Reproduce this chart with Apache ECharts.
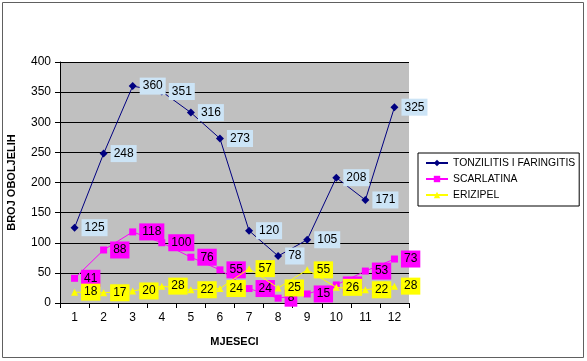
<!DOCTYPE html>
<html><head><meta charset="utf-8">
<script src="https://cdn.jsdelivr.net/npm/echarts@6/dist/echarts.min.js"></script>
<style>html,body{margin:0;padding:0;background:#fff}#c{width:587px;height:361px}</style>
</head><body><div id="c"></div>
<script>
const months = ['1','2','3','4','5','6','7','8','9','10','11','12'];
const tonzilitis = [125,248,360,351,316,273,120,78,105,208,171,325];
const scarlatina = [41,88,118,100,76,55,24,8,15,30,53,73];
const erizipel = [18,17,20,28,22,24,57,25,55,26,22,28];
const seriesNames = ['TONZILITIS I FARINGITIS','SCARLATINA','ERIZIPEL'];

const font = 'Liberation Sans, Arial, sans-serif';
function lbl(bg){
  return {show:true, position:'right', distance:3, color:'#000', fontFamily:font, fontSize:12,
    backgroundColor:bg, padding:[3,3,2,3]};
}
const chart = echarts.init(document.getElementById('c'));
chart.setOption({
  animation:false,
  backgroundColor:'#fff',
  graphic:[{type:'rect', shape:{x:2.5,y:2.5,width:581,height:355}, style:{fill:'none', stroke:'#606060', lineWidth:1}, silent:true, z:-1}],
  grid:{left:60, top:62, width:349, height:241, show:true, backgroundColor:'#C0C0C0', borderWidth:0,
    containLabel:false, outerBoundsMode:'none'},
  legend:{
    orient:'vertical', left:418, top:153, itemGap:6, itemWidth:22, itemHeight:8,
    borderColor:'#000', borderWidth:1, padding:[5,4,6,7],
    textStyle:{fontFamily:font, fontSize:10.4, color:'#000'},
    data:seriesNames.map(n=>({name:n}))
  },
  xAxis:{type:'category', data:months, boundaryGap:true,
    name:'MJESECI', nameLocation:'middle', nameGap:33,
    nameTextStyle:{fontFamily:font, fontSize:11, fontWeight:'bold', color:'#000'},
    axisLine:{lineStyle:{color:'#000'}}, axisTick:{show:true, inside:false, length:5, lineStyle:{color:'#000'}, alignWithLabel:false},
    axisLabel:{fontFamily:font, fontSize:12, color:'#000', margin:9}},
  yAxis:{type:'value', min:0, max:400, interval:50,
    name:'BROJ OBOLJELIH', nameLocation:'middle', nameGap:43,
    nameTextStyle:{fontFamily:font, fontSize:11, fontWeight:'bold', color:'#000'},
    axisLine:{show:true, lineStyle:{color:'#000'}}, axisTick:{show:true, length:5, lineStyle:{color:'#000'}},
    axisLabel:{fontFamily:font, fontSize:12, color:'#000', margin:9},
    splitLine:{lineStyle:{color:'#000', width:1}}},
  series:[
    {name:seriesNames[0], type:'line', data:tonzilitis, symbol:'diamond', symbolSize:8,
      itemStyle:{color:'#000080'}, lineStyle:{color:'#000080', width:1}, label:lbl('#CCE4F6'), z:3},
    {name:seriesNames[1], type:'line', data:scarlatina, symbol:'rect', symbolSize:7,
      itemStyle:{color:'#FF00FF'}, lineStyle:{color:'#FF00FF', width:1}, label:lbl('#FF00FF'), z:4},
    {name:seriesNames[2], type:'line', data:erizipel, symbol:'triangle', symbolSize:7,
      itemStyle:{color:'#FFFF00'}, lineStyle:{color:'#FFFF00', width:1}, label:lbl('#FFFF00'), z:5}
  ]
});
</script></body></html>
